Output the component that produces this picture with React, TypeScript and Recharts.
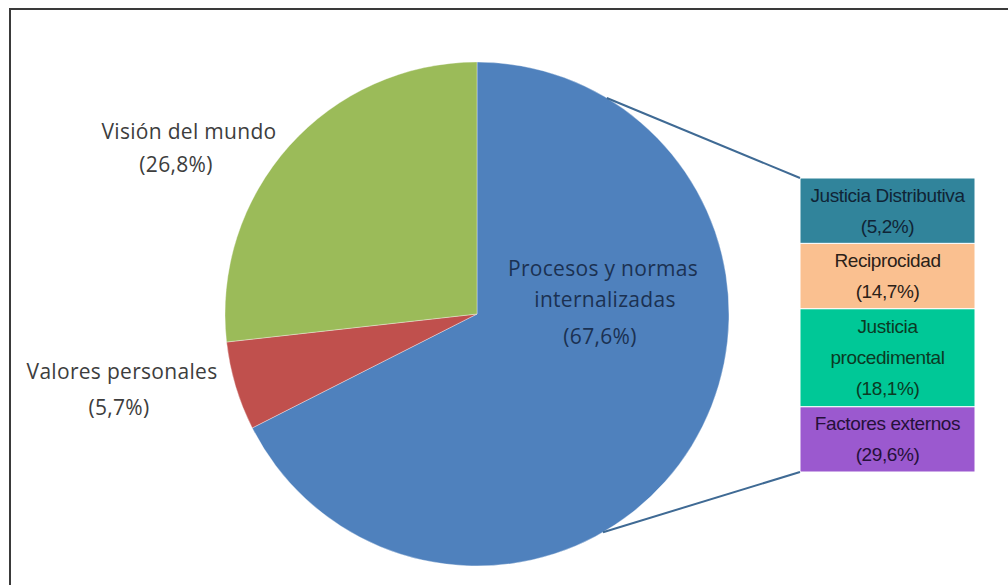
import React from 'react';
import { Bar, BarChart, Cell, Pie, PieChart, XAxis, YAxis } from 'recharts';

// pie slices (clockwise from 12 o'clock)
const sliceNames = ['Procesos y normas internalizadas', 'Valores personales', 'Visión del mundo'];
const sliceLines = [['Procesos y normas', 'internalizadas'], ['Valores personales'], ['Visión del mundo']];
const sliceValues = [67.6, 5.7, 26.8];
const sliceColors = ['#4F81BD', '#C0504D', '#9BBB59'];

// breakdown of "Procesos y normas internalizadas", top to bottom
const detailNames = ['Justicia Distributiva', 'Reciprocidad', 'Justicia procedimental', 'Factores externos'];
const detailLines = [['Justicia Distributiva'], ['Reciprocidad'], ['Justicia', 'procedimental'], ['Factores externos']];
const detailValues = [5.2, 14.7, 18.1, 29.6];
const detailColors = ['#31849B', '#FAC090', '#00C897', '#9B59CF'];
const detailText = ['#102436', '#2b2118', '#0b3a24', '#25103a'];

const W = 1008;
const H = 585;
const PIE_CX = 477;
const PIE_CY = 314;
const PIE_R = 252;
const BAR_X = 800;
const BAR_Y = 178;
const BAR_W = 175;
const BAR_H = 294;
const CONNECT_ANGLES = [31, 150]; // degrees clockwise from top

const pct = (v: number) => `(${v.toFixed(1).replace('.', ',')}%)`;

const pieData = sliceNames.map((name, i) => ({ name, value: sliceValues[i] }));

// each box is as tall as the text it holds
const boxSize = detailLines.map((l) => l.length + 1);
const barRow: Record<string, number | string> = { name: 'detalle' };
boxSize.forEach((s, i) => {
  barRow[`s${i}`] = s;
});
const barData = [barRow];
const totalLines = boxSize.reduce((a, b) => a + b, 0);

// label placement per slice, offsets from the pie centre
const labelSpots = [
  { lines: [[126, -46], [128, -15], [123, 22]], color: '#1B3152', inside: true },
  { lines: [[-355, 57], [-358, 93]], color: '#3d3d3d', inside: false },
  { lines: [[-288, -183], [-301, -150]], color: '#3d3d3d', inside: false },
];

function PieLabel(props: any) {
  const { index } = props;
  const spot = labelSpots[index];
  const texts = [...sliceLines[index], pct(sliceValues[index])];
  return (
    <g>
      {texts.map((t, k) => (
        <text
          key={k}
          x={PIE_CX + spot.lines[k][0]}
          y={PIE_CY + spot.lines[k][1]}
          textAnchor="middle"
          dominantBaseline="central"
          fill={spot.color}
          fontSize={21}
          letterSpacing={0.3}
          fontFamily="'Open Sans', Lato, sans-serif"
        >
          {t}
        </text>
      ))}
    </g>
  );
}

function boxLabel(i: number) {
  return (props: any) => {
    const { x, y, width, height } = props;
    const texts = [...detailLines[i], pct(detailValues[i])];
    const lh = 31;
    const top = y + height / 2 - ((texts.length - 1) * lh) / 2;
    return (
      <g>
        {texts.map((t, k) => (
          <text
            key={k}
            x={x + width / 2}
            y={top + k * lh}
            textAnchor="middle"
            dominantBaseline="central"
            fill={detailText[i]}
            fontSize={19}
            letterSpacing={-0.4}
            fontFamily="'Liberation Sans Narrow', 'Arial Narrow', 'Liberation Sans', sans-serif"
          >
            {t}
          </text>
        ))}
      </g>
    );
  };
}

export default function App() {
  const edge = (deg: number) => {
    const a = (deg * Math.PI) / 180;
    return [PIE_CX + PIE_R * Math.sin(a), PIE_CY - PIE_R * Math.cos(a)];
  };
  const [tx, ty] = edge(CONNECT_ANGLES[0]);
  const [bx, by] = edge(CONNECT_ANGLES[1]);
  const order = detailNames.map((_, i) => i).reverse(); // bottom box first

  return (
    <div style={{ position: 'absolute', left: 0, top: 0, width: W, height: H, background: '#fff' }}>
      <PieChart width={W} height={H} margin={{ top: 0, right: 0, bottom: 0, left: 0 }}>
        <Pie
          data={pieData}
          dataKey="value"
          nameKey="name"
          cx={PIE_CX}
          cy={PIE_CY}
          outerRadius={PIE_R}
          startAngle={90}
          endAngle={-270}
          stroke="rgba(255,255,255,0.35)"
          strokeWidth={1}
          label={PieLabel}
          labelLine={false}
          isAnimationActive={false}
        >
          {pieData.map((d, i) => (
            <Cell key={d.name} fill={sliceColors[i]} />
          ))}
        </Pie>
      </PieChart>

      <div style={{ position: 'absolute', left: BAR_X, top: BAR_Y }}>
        <BarChart
          width={BAR_W}
          height={BAR_H}
          data={barData}
          margin={{ top: 0, right: 0, bottom: 0, left: 0 }}
          barCategoryGap={0}
        >
          <XAxis dataKey="name" hide />
          <YAxis hide domain={[0, totalLines]} />
          {order.map((i) => (
            <Bar
              key={detailNames[i]}
              dataKey={`s${i}`}
              name={detailNames[i]}
              stackId="d"
              fill={detailColors[i]}
              stroke="#ffffff"
              strokeWidth={1}
              label={boxLabel(i)}
              isAnimationActive={false}
            />
          ))}
        </BarChart>
      </div>

      <svg width={W} height={H} style={{ position: 'absolute', left: 0, top: 0, pointerEvents: 'none' }}>
        <line x1={tx} y1={ty} x2={BAR_X} y2={BAR_Y} stroke="#3F6A94" strokeWidth={2} />
        <line x1={bx} y1={by} x2={BAR_X} y2={BAR_Y + BAR_H} stroke="#3F6A94" strokeWidth={2} />
        <line x1={10} y1={9} x2={W} y2={9} stroke="#3a3a3a" strokeWidth={2} />
        <line x1={10} y1={8} x2={10} y2={H} stroke="#3a3a3a" strokeWidth={2} />
      </svg>
    </div>
  );
}
